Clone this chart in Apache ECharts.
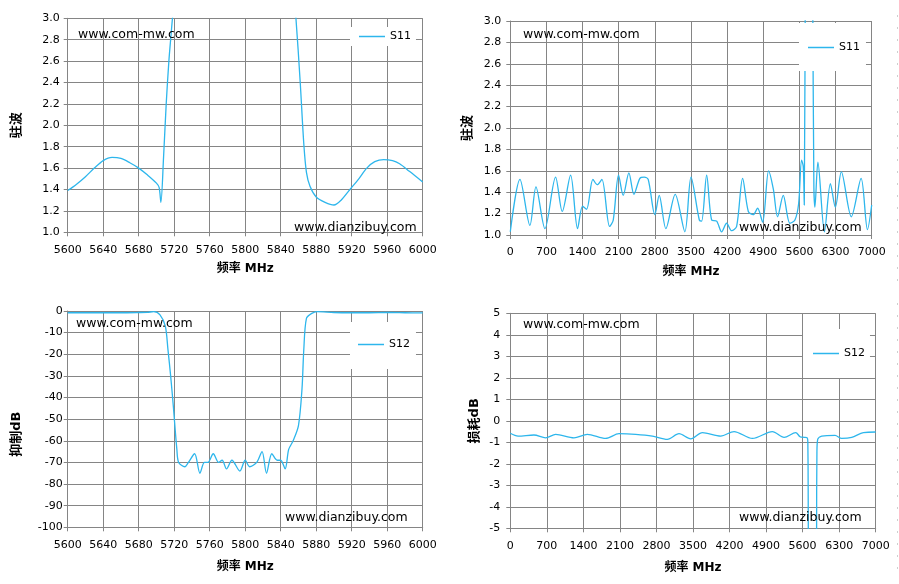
<!DOCTYPE html>
<html>
<head>
<meta charset="utf-8">
<script src="https://cdn.jsdelivr.net/npm/echarts@6.0.0/dist/echarts.min.js"></script>
<style>
  html, body { margin: 0; padding: 0; background: #fff; }
  #main { width: 899px; height: 584px; }
</style>
</head>
<body>
<div id="main"></div>
<script>
// 驻波 S11, 5600-6000 MHz
const s11BandFreq = [5600, 5610, 5620, 5630, 5640, 5650, 5660, 5670, 5680, 5690, 5700, 5703, 5705, 5708, 5711, 5714, 5717, 5720, 5730,
  5790, 5845, 5852, 5857, 5862, 5866, 5869, 5873, 5880, 5890, 5900, 5908, 5918, 5928, 5937, 5946, 5956, 5966, 5974, 5985, 6000];
const s11BandVswr = [1.39, 1.45, 1.52, 1.60, 1.67, 1.70, 1.69, 1.65, 1.60, 1.535, 1.46, 1.42, 1.28, 1.70, 2.20, 2.60, 2.90, 3.20, 4.5,
  8.0, 4.2, 3.5, 3.02, 2.40, 1.83, 1.56, 1.43, 1.33, 1.28, 1.255, 1.30, 1.40, 1.50, 1.60, 1.66, 1.68, 1.67, 1.64, 1.57, 1.47];

// 驻波 S11, 0-7000 MHz
const s11WideFreq = [0, 187, 380, 497, 671, 877, 1006, 1168, 1303, 1400, 1477, 1600, 1684, 1774, 1923, 1994, 2097, 2187, 2297, 2394,
  2510, 2594, 2671, 2800, 2884, 3013, 3194, 3381, 3500, 3661, 3706, 3803, 3900, 3997, 4094, 4190, 4287, 4384, 4500, 4610,
  4706, 4790, 4887, 5003, 5094, 5177, 5287, 5416, 5513, 5584, 5642, 5674, 5694, 5715, 5790, 5857, 5880, 5900, 5958, 6085,
  6200, 6296, 6412, 6605, 6795, 6918, 7000];
const s11WideVswr = [1.03, 1.52, 1.09, 1.45, 1.06, 1.54, 1.22, 1.56, 1.06, 1.27, 1.24, 1.52, 1.47, 1.52, 1.08, 1.14, 1.56, 1.37, 1.58, 1.38,
  1.53, 1.54, 1.52, 1.19, 1.37, 1.06, 1.38, 1.03, 1.54, 1.14, 1.13, 1.56, 1.14, 1.13, 1.03, 1.11, 1.04, 1.08, 1.53, 1.22,
  1.19, 1.25, 1.12, 1.60, 1.43, 1.17, 1.37, 1.11, 1.14, 1.29, 1.70, 1.64, 1.28, 3.4, 8.0, 3.3, 1.45, 1.26, 1.68, 1.03,
  1.48, 1.26, 1.59, 1.17, 1.53, 1.05, 1.28];

// 抑制 S12, 5600-6000 MHz
const s12BandFreq = [5600, 5620, 5640, 5660, 5680, 5690, 5697, 5704, 5710, 5713, 5716, 5719, 5723, 5725, 5732, 5736, 5743, 5749, 5754, 5758,
  5764, 5770, 5774, 5779, 5785, 5794, 5800, 5805, 5813, 5819, 5824, 5830, 5836, 5840, 5845, 5849, 5854, 5860, 5864, 5866,
  5869, 5875, 5881, 5900, 5920, 5940, 5960, 5980, 6000];
const s12BandDb = [-0.8, -0.8, -0.8, -0.8, -0.7, -0.6, -0.3, -1.8, -7, -18, -30, -44, -64, -70, -72, -70, -66, -75, -70, -70,
  -66, -70, -69, -73, -69, -74, -69, -72, -70, -65, -75, -66, -69, -69, -73, -64, -60, -53, -36, -18,
  -3.4, -1.1, -0.3, -0.7, -0.8, -0.8, -0.7, -0.8, -0.9];

// 损耗 S12, 0-7000 MHz
const s12WideFreq = [0, 149, 453, 677, 869, 1220, 1476, 1827, 2082, 2402, 2721, 3009, 3232, 3456, 3680, 4031, 4286, 4638, 5021, 5245,
  5468, 5551, 5628, 5690, 5700, 5706, 5712, 5790, 5862, 5868, 5874, 5890, 5966, 6221, 6349, 6541, 6764, 7000];
const s12WideDb = [-0.58, -0.71, -0.66, -0.79, -0.63, -0.79, -0.63, -0.82, -0.6, -0.63, -0.71, -0.86, -0.6, -0.84, -0.55, -0.71, -0.5, -0.82, -0.5, -0.77,
  -0.55, -0.74, -0.77, -0.8, -1.0, -3, -8, -70, -30, -5, -1.5, -0.85, -0.71, -0.68, -0.82, -0.77, -0.55, -0.52];

const yNames = ['驻波', '驻波', '抑制dB', '损耗dB'];
const xName = '频率 MHz';
const seriesNames = ['S11', 'S11', 'S12', 'S12'];
const siteA = 'www.com-mw.com';
const siteB = 'www.dianzibuy.com';

const LINE = '#2db6ec';
const GRIDC = '#858585';
const FONT = 'DejaVu Sans';
const CJK = 'DejaVu Sans, Noto Sans CJK SC';

function zip(xs, ys) {
  return xs.map(function (x, i) { return [x, ys[i]]; });
}

const grids = [
  { left: 67.7, top: 18.3, width: 355, height: 214 },
  { left: 510.3, top: 21, width: 361.4, height: 214 },
  { left: 67.7, top: 311, width: 355, height: 216.3 },
  { left: 510.3, top: 313.3, width: 365.4, height: 215 }
];

function plain(v) { return String(v); }
function oneDecimal(v) { return v.toFixed(1); }

function xAxisOf(i, min, max, interval, gap) {
  return {
    type: 'value', gridIndex: i, min: min, max: max, interval: interval,
    name: xName, nameLocation: 'middle', nameGap: gap,
    nameTextStyle: { fontFamily: CJK, fontSize: 12, fontWeight: 'bold', color: '#000' },
    axisLine: { show: true, onZero: false, lineStyle: { color: GRIDC, width: 1 } },
    axisTick: { show: true, inside: false, length: 4, lineStyle: { color: GRIDC } },
    splitLine: { show: true, lineStyle: { color: GRIDC, width: 1 } },
    axisLabel: { fontFamily: FONT, fontSize: 11, color: '#000', margin: 12, formatter: plain, showMinLabel: true, showMaxLabel: true }
  };
}

function yAxisOf(i, min, max, interval, gap, margin, fmt, pad) {
  return {
    type: 'value', gridIndex: i, min: min, max: max, interval: interval,
    name: yNames[i], nameLocation: 'middle', nameGap: gap,
    nameTextStyle: { fontFamily: CJK, fontSize: 13, fontWeight: 'bold', color: '#000', padding: pad || 0 },
    axisLine: { show: true, onZero: false, lineStyle: { color: GRIDC, width: 1 } },
    axisTick: { show: true, inside: false, length: 4, lineStyle: { color: GRIDC } },
    splitLine: { show: true, lineStyle: { color: GRIDC, width: 1 } },
    axisLabel: { fontFamily: FONT, fontSize: 11, color: '#000', margin: margin, formatter: fmt, showMinLabel: true, showMaxLabel: true }
  };
}

function legendOf(name, left, top, padding) {
  return {
    data: [name], left: left, top: top, orient: 'vertical',
    backgroundColor: '#fff', padding: padding, selectedMode: false,
    icon: 'rect', itemWidth: 26, itemHeight: 1.5,
    textStyle: { fontFamily: FONT, fontSize: 11, color: '#000' }
  };
}

function lineOf(i, data) {
  return {
    name: seriesNames[i], type: 'line', xAxisIndex: i, yAxisIndex: i,
    data: data, showSymbol: false, smooth: 0.3, clip: true,
    itemStyle: { color: LINE },
    lineStyle: { color: LINE, width: 1.3 }
  };
}

function site(text, x, y) {
  return {
    type: 'text', x: x, y: y, z: 100,
    style: { text: text, fontFamily: FONT, fontSize: 12.5, fill: '#000', verticalAlign: 'middle' }
  };
}

const chart = echarts.init(document.getElementById('main'), null, { renderer: 'canvas' });

chart.setOption({
  animation: false,
  backgroundColor: '#fff',
  grid: grids.map(function (g) { return Object.assign({ outerBoundsMode: 'none' }, g); }),
  xAxis: [
    xAxisOf(0, 5600, 6000, 40, 31),
    xAxisOf(1, 0, 7000, 700, 31),
    xAxisOf(2, 5600, 6000, 40, 34),
    xAxisOf(3, 0, 7000, 700, 34)
  ],
  yAxis: [
    yAxisOf(0, 1, 3, 0.2, 45, 8, oneDecimal),
    yAxisOf(1, 1, 3, 0.2, 36, 9, oneDecimal),
    yAxisOf(2, -100, 0, 10, 45, 5, plain, [0, 30, 0, 0]),
    yAxisOf(3, -5, 5, 1, 29, 10, plain)
  ],
  legend: [
    legendOf('S11', 350, 27, [4, 5, 4, 9]),
    legendOf('S11', 799, 23, [19, 6, 18, 9]),
    legendOf('S12', 350, 322, [17, 6, 19, 8]),
    legendOf('S12', 803, 329, [19, 5, 19, 10])
  ],
  series: [
    lineOf(0, zip(s11BandFreq, s11BandVswr)),
    lineOf(1, zip(s11WideFreq, s11WideVswr)),
    lineOf(2, zip(s12BandFreq, s12BandDb)),
    lineOf(3, zip(s12WideFreq, s12WideDb))
  ],
  graphic: [
    site(siteA, 78, 35),
    site(siteB, 294, 228),
    site(siteA, 523, 35),
    site(siteB, 739, 228),
    site(siteA, 76, 324),
    site(siteB, 285, 518),
    site(siteA, 523, 325),
    site(siteB, 739, 518),
    { type: 'line', shape: { x1: 897.5, y1: 15, x2: 897.5, y2: 288 }, style: { stroke: '#cfcfcf', lineWidth: 1, lineDash: [2, 10] } },
    { type: 'line', shape: { x1: 897.5, y1: 303, x2: 897.5, y2: 575 }, style: { stroke: '#cfcfcf', lineWidth: 1, lineDash: [2, 10] } }
  ]
});
</script>
</body>
</html>
